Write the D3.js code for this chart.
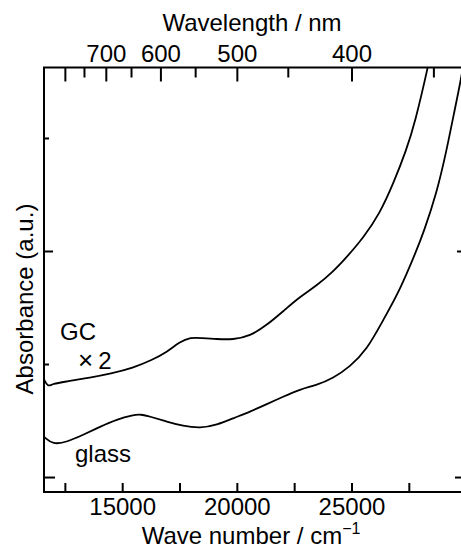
<!DOCTYPE html>
<meta charset="utf-8">

<!-- Load d3.js -->
<script src="https://d3js.org/d3.v7.js"></script>

<style>
  body { margin: 0; background: #fff; }
  svg text { font-family: "Liberation Sans", Arial, Helvetica, sans-serif; fill: #000; }
</style>

<svg id="my_dataviz" width="461" height="550"></svg>

<script>

// GC (x2) spectrum: wave number (cm-1) and absorbance (a.u.)
const gcWaveNumber = [11590, 11760, 11950, 12593, 13600, 14500, 15471, 16300, 16954, 17500, 18000, 18393, 19134, 19831, 20573, 21314, 22012, 22753, 23495, 24192, 24790, 25513, 26242, 26822, 27398, 27768, 28335, 28600];
const gcAbsorbance = [0.87, 0.80, 0.83, 0.85, 0.885, 0.92, 0.97, 1.04, 1.11, 1.20, 1.24, 1.235, 1.225, 1.22, 1.25, 1.35, 1.47, 1.60, 1.70, 1.82, 1.95, 2.12, 2.34, 2.60, 2.90, 3.14, 3.63, 3.90];

// glass spectrum
const glassWaveNumber = [11590, 11983, 12593, 13291, 14032, 14773, 15471, 15800, 16212, 16954, 17651, 18393, 19134, 19831, 20573, 21314, 22012, 22753, 23495, 24192, 24933, 25662, 26386, 27114, 27842, 28130, 28714, 29150, 29438, 29774, 30000];
const glassAbsorbance = [0.36, 0.29, 0.315, 0.376, 0.45, 0.515, 0.553, 0.56, 0.54, 0.494, 0.456, 0.435, 0.465, 0.524, 0.582, 0.65, 0.715, 0.781, 0.819, 0.878, 0.981, 1.128, 1.394, 1.659, 2.013, 2.161, 2.515, 2.898, 3.193, 3.518, 3.80];

// bottom axis (wave number)
const wnTicks = [12500, 15000, 17500, 20000, 22500, 25000, 27500];
const wnTickLabels = ["", "15000", "", "20000", "", "25000", ""];

// top axis (wavelength, nm)
const wlTicks = [800, 750, 700, 650, 600, 550, 500, 450, 400, 350];
const wlTickLabels = ["", "", "700", "", "600", "", "500", "", "400", ""];

// left / right axis (no labels)
const absTicks = [0, 1, 2, 3];

// The svg
const svg = d3.select("svg"),
  width = +svg.attr("width"),
  height = +svg.attr("height");

const plotLeft = 44, plotRight = 465, plotTop = 67.5, plotBottom = 492;

const x = d3.scaleLinear()
  .domain([11590, 29950])
  .range([plotLeft, plotRight]);

const y = d3.scaleLinear()
  .domain([-0.128, 3.628])
  .range([plotBottom, plotTop]);

const fontSize = 24;

// clip for the curves
svg.append("clipPath")
    .attr("id", "plotclip")
  .append("rect")
    .attr("x", plotLeft)
    .attr("y", plotTop)
    .attr("width", plotRight - plotLeft)
    .attr("height", plotBottom - plotTop);

// bottom axis, ticks pointing inward
const xAxis = svg.append("g")
  .attr("transform", `translate(0,${plotBottom})`)
  .call(d3.axisBottom(x)
    .tickValues(wnTicks)
    .tickSize(-9)
    .tickPadding(6)
    .tickFormat((d, i) => wnTickLabels[i]));

// top axis, wavelength converted to wave number
const xTop = svg.append("g")
  .attr("transform", `translate(0,${plotTop})`)
  .call(d3.axisTop(x)
    .tickValues(wlTicks.map(d => 1e7 / d))
    .tickSize(0)
    .tickPadding(6)
    .tickFormat((d, i) => wlTickLabels[i]));

xTop.selectAll(".tick line")
  .attr("y2", (d, i) => (i % 2 === 0 ? 14 : 10));

// left and right ticks
const tickLen = [11, 5, 9, 5];
svg.append("g")
  .selectAll("line")
  .data(absTicks)
  .join("line")
    .attr("x1", plotLeft)
    .attr("x2", (d, i) => plotLeft + tickLen[i])
    .attr("y1", d => y(d))
    .attr("y2", d => y(d));

svg.append("g")
  .selectAll("line")
  .data(absTicks)
  .join("line")
    .attr("x1", plotRight)
    .attr("x2", (d, i) => plotRight - tickLen[i] + 1)
    .attr("y1", d => y(d))
    .attr("y2", d => y(d));

// styling for axes
svg.selectAll(".domain").remove();
svg.selectAll("line")
  .attr("stroke", "#000")
  .attr("stroke-width", 2);
svg.selectAll(".tick text")
  .attr("font-size", fontSize)
  .attr("fill", "#000");
xAxis.attr("font-family", null).attr("font-size", null);
xTop.attr("font-family", null).attr("font-size", null);

// frame
svg.append("rect")
  .attr("x", plotLeft)
  .attr("y", plotTop)
  .attr("width", plotRight - plotLeft)
  .attr("height", plotBottom - plotTop)
  .attr("fill", "none")
  .attr("stroke", "#000")
  .attr("stroke-width", 2);

// curves
const line = d3.line()
  .x(d => x(d[0]))
  .y(d => y(d[1]))
  .curve(d3.curveBasis);

const series = [
  d3.zip(gcWaveNumber, gcAbsorbance),
  d3.zip(glassWaveNumber, glassAbsorbance)
];

svg.append("g")
    .attr("clip-path", "url(#plotclip)")
  .selectAll("path")
  .data(series)
  .join("path")
    .attr("d", line)
    .attr("fill", "none")
    .attr("stroke", "#000")
    .attr("stroke-width", 1.8);

// curve labels
svg.append("text")
  .attr("x", 60)
  .attr("y", 340)
  .attr("font-size", fontSize)
  .text("GC");

const times = svg.append("text")
  .attr("x", 78)
  .attr("y", 369)
  .attr("font-size", fontSize);
times.append("tspan").attr("font-size", 26).text("×");
times.append("tspan").attr("dx", 5).text("2");

svg.append("text")
  .attr("x", 75)
  .attr("y", 461.5)
  .attr("font-size", fontSize)
  .text("glass");

// axis titles
svg.append("text")
  .attr("x", 252)
  .attr("y", 31)
  .attr("text-anchor", "middle")
  .attr("font-size", fontSize)
  .text("Wavelength / nm");

const xTitle = svg.append("text")
  .attr("x", 251)
  .attr("y", 544)
  .attr("text-anchor", "middle")
  .attr("font-size", fontSize);
xTitle.append("tspan").text("Wave number / cm");
xTitle.append("tspan")
  .attr("font-size", 16)
  .attr("dy", -10)
  .text("−1");

svg.append("text")
  .attr("transform", "translate(33,299) rotate(-90)")
  .attr("text-anchor", "middle")
  .attr("font-size", fontSize)
  .text("Absorbance (a.u.)");

</script>
